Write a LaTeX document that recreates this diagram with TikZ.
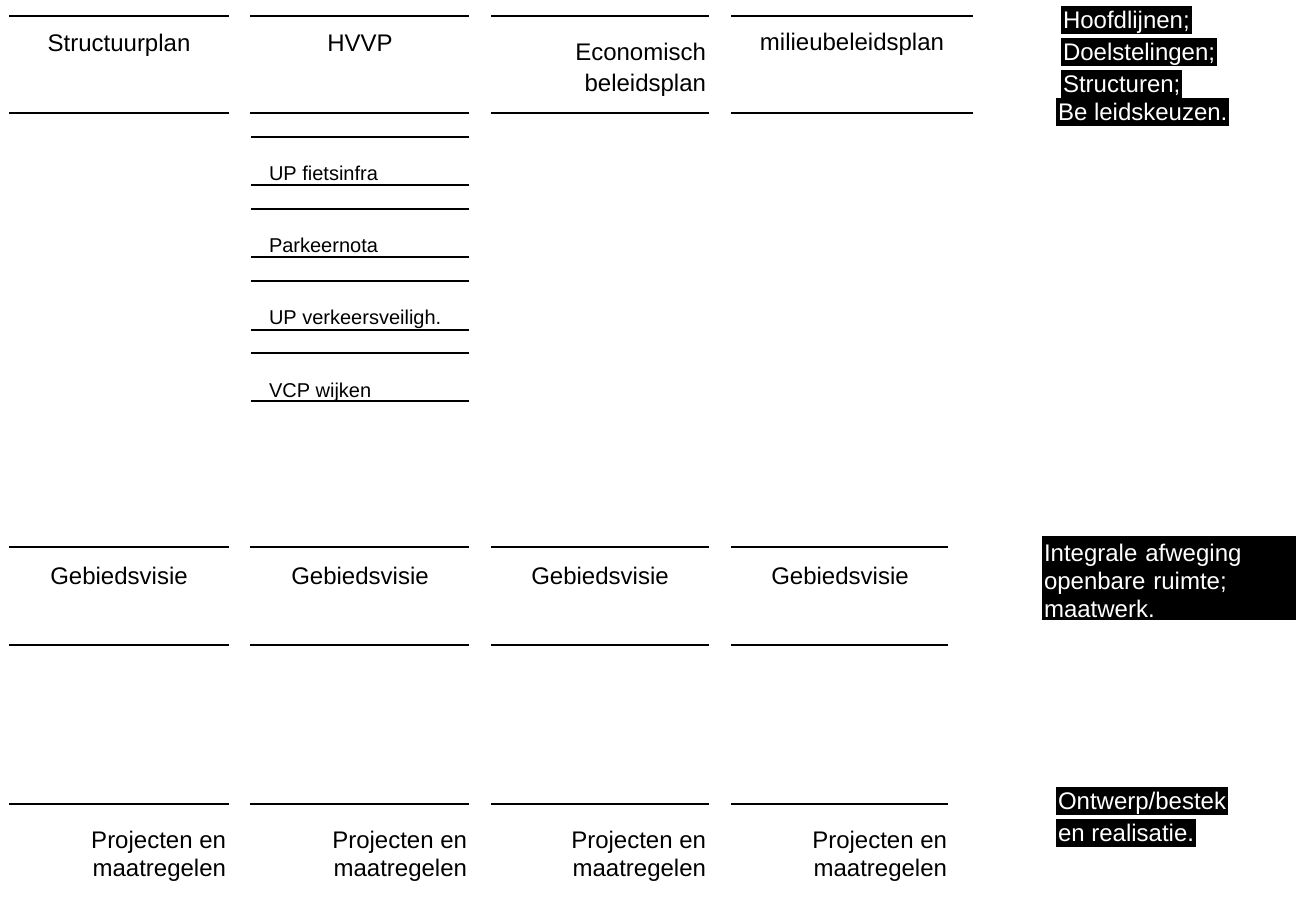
\documentclass[tikz,border=0pt]{standalone}
\usepackage{fontspec}
\setmainfont{Liberation Sans}
\usetikzlibrary{positioning}

\begin{document}
\begin{tikzpicture}[x=0.5pt,y=-0.5pt,line width=1pt,
  lbl/.style={font=\fontsize{12}{15.5}\selectfont,inner sep=0pt,anchor=base},
  lblr/.style={font=\fontsize{12}{14}\selectfont,inner sep=0pt,anchor=base east,align=right},
  sub/.style={font=\fontsize{10}{12}\selectfont,inner sep=0pt,anchor=base west},
  blk/.style={fill=black,text=white,font=\fontsize{12}{14}\selectfont,inner xsep=1pt,inner ysep=0pt,text height=11pt,text depth=3pt,anchor=north west},
  blkbox/.style={blk,text width=125pt,align=left,text height=12.5pt,text depth=29.5pt}]
\useasboundingbox (0,0) rectangle (1301,896);
\foreach \a/\b in {9/229,250/469,491/709,731/973}
  {\draw (\a,16) -- (\b,16); \draw (\a,113) -- (\b,113);}
\foreach \a/\b in {9/229,250/469,491/709,731/948}
  {\draw (\a,547) -- (\b,547); \draw (\a,645) -- (\b,645); \draw (\a,804) -- (\b,804);}
\foreach \t/\u in {137/185,209/257,281/330,353/401}
  {\draw (251,\t) -- (469,\t); \draw (251,\u) -- (469,\u);}
\node[lbl] (sp) at (119,51) {Structuurplan};
\node[lbl] (hvvp) at (360,51) {HVVP};
\node[lblr,font=\fontsize{12}{15.5}\selectfont] (ebp) at (707,91) {Economisch\\beleidsplan};
\node[lbl] (mbp) at (852,50) {milieubeleidsplan};
\node[sub] (fi) at (268,180) {UP fietsinfra};
\node[sub] (pn) at (268,252) {Parkeernota};
\node[sub] (vv) at (268,324) {UP verkeersveiligh.};
\node[sub] (vcp) at (268,397) {VCP wijken};
\foreach \x [count=\i] in {119,360,600,840}
  \node[lbl] (gv\i) at (\x,584) {Gebiedsvisie};
\foreach \x [count=\i] in {227,468,707,948}
  \node[lblr] (pm\i) at (\x,876) {Projecten en\\maatregelen};
\node[blk] (hl) at (1060,5) {Hoofdlijnen;};
\node[blk] (ds) at (1060,37) {Doelstelingen;};
\node[blk] (st) at (1060,69) {Structuren;};
\node[blk] (bk) at (1055,97) {Be leidskeuzen.};
\node[blkbox] (iaw) at (1041,535) {Integrale afweging openbare ruimte; maatwerk.};
\node[blk] (ob) at (1055,786) {Ontwerp/bestek};
\node[blk] (er) at (1055,818) {en realisatie.};
\end{tikzpicture}
\end{document}
